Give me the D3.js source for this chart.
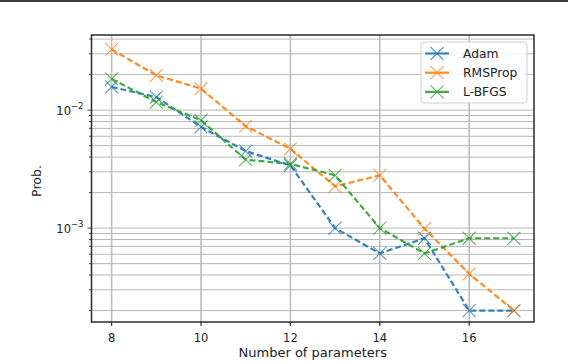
<!DOCTYPE html>
<html>
<head>
<meta charset="utf-8">
<script src="https://cdn.jsdelivr.net/npm/d3@7"></script>
<style>
  body { margin: 0; background: #fff; }
  svg { display: block; font-family: "DejaVu Sans", sans-serif; }
</style>
</head>
<body>
<div id="chart"></div>
<script>
// data
const params = [8, 9, 10, 11, 12, 13, 14, 15, 16, 17];
const adam    = [0.0157, 0.0129, 0.0072, 0.0045, 0.0034, 0.0010, 0.00061, 0.00082, 0.0002, 0.0002];
const rmsprop = [0.0327, 0.0197, 0.0152, 0.0073, 0.0047, 0.00226, 0.0028, 0.00099, 0.00041, 0.0002];
const lbfgs   = [0.0184, 0.0117, 0.0082, 0.0038, 0.0035, 0.0028, 0.0010, 0.00061, 0.00082, 0.00082];
const seriesNames = ["Adam", "RMSProp", "L-BFGS"];
const seriesColors = ["#1f77b4", "#ff7f0e", "#2ca02c"];
const xTicks = [8, 10, 12, 14, 16];

const width = 568, height = 364;
const margin = { left: 91.5, right: 34, top: 35, bottom: 42 };

const svg = d3.select("#chart").append("svg")
    .attr("width", width)
    .attr("height", height);

// thin dark rule at the very top (part of the source crop)
svg.append("rect").attr("x", 0).attr("y", 0).attr("width", width).attr("height", 2).attr("fill", "#3a3a3a");

const x = d3.scaleLinear().domain([7.55, 17.45]).range([margin.left, width - margin.right]);
const y = d3.scaleLog().domain([1.6e-4, 4.33e-2]).range([height - margin.bottom, margin.top]);

// grid: every decade sub-tick in y
const minor = [];
for (let e = -4; e <= -2; e++) {
    for (let k = 1; k <= 9; k++) {
        const v = k * Math.pow(10, e);
        if (v >= y.domain()[0] && v <= y.domain()[1]) minor.push(v);
    }
}
const grid = svg.append("g");
grid.selectAll("line.h").data(minor).enter().append("line")
    .attr("x1", margin.left).attr("x2", width - margin.right)
    .attr("y1", d => y(d)).attr("y2", d => y(d))
    .attr("stroke", "#b8b8b8").attr("stroke-width", 1);
grid.selectAll("line.v").data(xTicks).enter().append("line")
    .attr("y1", margin.top).attr("y2", height - margin.bottom)
    .attr("x1", d => x(d)).attr("x2", d => x(d))
    .attr("stroke", "#bdbdbd").attr("stroke-width", 1.6);

// axes
const ax = svg.append("g");
ax.selectAll("line.xt").data(xTicks).enter().append("line")
    .attr("x1", d => x(d)).attr("x2", d => x(d))
    .attr("y1", height - margin.bottom).attr("y2", height - margin.bottom + 4)
    .attr("stroke", "#333").attr("stroke-width", 1.2);
ax.selectAll("text.xt").data(xTicks).enter().append("text")
    .attr("x", d => x(d)).attr("y", height - margin.bottom + 20)
    .attr("text-anchor", "middle").attr("font-size", 11.5).attr("fill", "#222")
    .text(d => d);

ax.selectAll("line.yt").data(minor).enter().append("line")
    .attr("x1", d => margin.left - ([1e-3, 1e-2].includes(d) ? 4 : 2.5)).attr("x2", margin.left)
    .attr("y1", d => y(d)).attr("y2", d => y(d))
    .attr("stroke", "#333").attr("stroke-width", 0.9);

const yMajor = [1e-3, 1e-2];
const yl = ax.selectAll("text.yt").data(yMajor).enter().append("text")
    .attr("x", margin.left - 8).attr("y", d => y(d) + 4.5)
    .attr("text-anchor", "end").attr("fill", "#222").attr("font-size", 11.5);
yl.append("tspan").text("10");
yl.append("tspan").attr("dy", -5.5).attr("font-size", 8.5)
    .text(d => "\u2212" + Math.round(-Math.log10(d)));

ax.append("rect")
    .attr("x", margin.left).attr("y", margin.top)
    .attr("width", width - margin.left - margin.right)
    .attr("height", height - margin.top - margin.bottom)
    .attr("fill", "none").attr("stroke", "#2b2b2b").attr("stroke-width", 1.5);

svg.append("text").attr("x", (margin.left + width - margin.right) / 2).attr("y", 357)
    .attr("text-anchor", "middle").attr("font-size", 13).attr("fill", "#222")
    .text("Number of parameters");
svg.append("text").attr("transform", "translate(41,181) rotate(-90)")
    .attr("text-anchor", "middle").attr("font-size", 12.5).attr("fill", "#222")
    .text("Prob.");

// series
const allSeries = [adam, rmsprop, lbfgs];
const line = d3.line().x((d, i) => x(params[i])).y(d => y(d));

function xMark(g, cx, cy, r, color) {
    g.append("path")
        .attr("d", `M${cx - r},${cy - r}L${cx + r},${cy + r}M${cx - r},${cy + r}L${cx + r},${cy - r}`)
        .attr("stroke", color).attr("stroke-width", 1.1).attr("stroke-opacity", 0.75).attr("fill", "none");
}

const plot = svg.append("g");
allSeries.forEach((vals, s) => {
    const g = plot.append("g");
    g.append("path").datum(vals).attr("d", line)
        .attr("fill", "none").attr("stroke", seriesColors[s])
        .attr("stroke-width", 2.2).attr("stroke-dasharray", "6,3").attr("stroke-opacity", 0.9);
    vals.forEach((v, i) => xMark(g, x(params[i]), y(v), 6.5, seriesColors[s]));
});

// legend
const lg = svg.append("g").attr("transform", "translate(421,42)");
lg.append("rect").attr("width", 106).attr("height", 61).attr("rx", 3)
    .attr("fill", "#fff").attr("fill-opacity", 0.85).attr("stroke", "#d0d0d0");
seriesNames.forEach((name, i) => {
    const yy = 11.5 + i * 19.2;
    lg.append("line").attr("x1", 4).attr("x2", 28).attr("y1", yy).attr("y2", yy)
        .attr("stroke", seriesColors[i]).attr("stroke-width", 2.2).attr("stroke-opacity", 0.9);
    xMark(lg, 16, yy, 6.5, seriesColors[i]);
    lg.append("text").attr("x", 42).attr("y", yy + 4.5)
        .attr("font-size", 12.3).attr("fill", "#222").text(name);
});
</script>
</body>
</html>
